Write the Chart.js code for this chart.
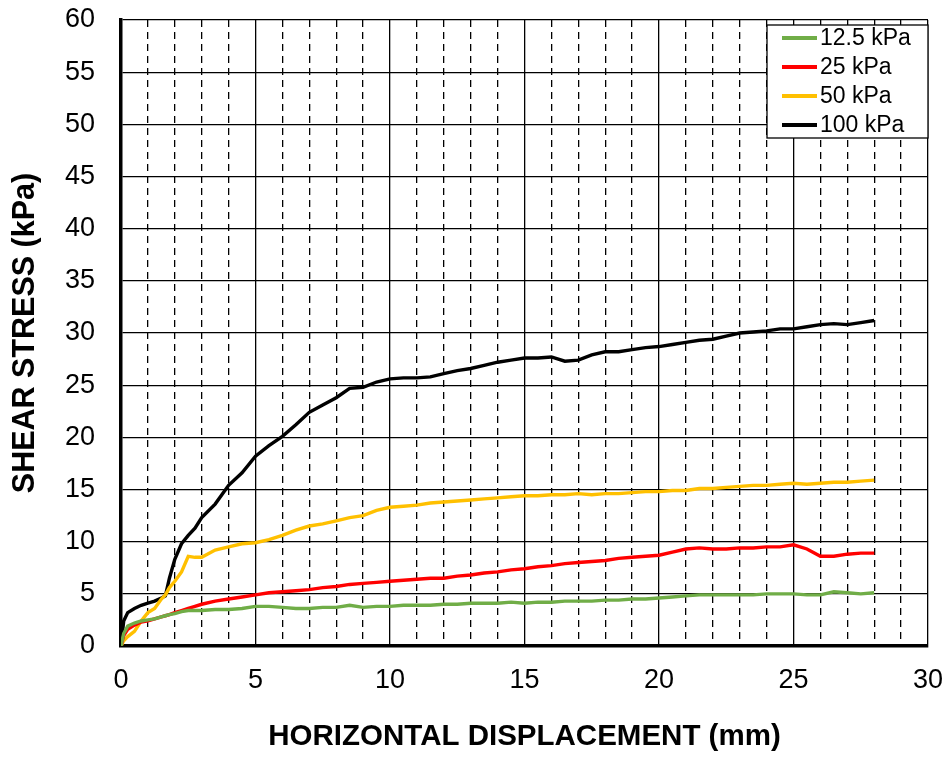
<!DOCTYPE html>
<html>
<head>
<meta charset="utf-8">
<script src="https://cdn.jsdelivr.net/npm/chart.js@4/dist/chart.umd.min.js"></script>
<style>
  html, body { margin: 0; padding: 0; background: #fff; }
  #wrap { width: 948px; height: 757px; }
</style>
</head>
<body>
<div id="wrap"><canvas id="shearChart" width="948" height="757"></canvas></div>
<script>
// horizontal displacement (mm), shared by all four tests
const displacement = [0, 0.1, 0.25, 0.5, 0.75, 1, 1.25, 1.5, 1.65, 1.8, 2, 2.25, 2.5, 2.75, 3,
  3.5, 4, 4.5, 5, 5.5, 6, 6.5, 7, 7.5, 8, 8.5, 9, 9.5, 10, 10.5, 11, 11.5, 12, 12.5, 13, 13.5,
  14, 14.5, 15, 15.5, 16, 16.5, 17, 17.5, 18, 18.5, 19, 19.5, 20, 20.5, 21, 21.5, 22, 22.5,
  23, 23.5, 24, 24.5, 25, 25.5, 26, 26.5, 27, 27.5, 28]

const labels = ['12.5 kPa', '25 kPa', '50 kPa', '100 kPa']
const colors = ['#70AD47', '#FF0000', '#FFC000', '#000000']

// shear stress (kPa)
const stress12 = [0, 1.2, 1.9, 2.2, 2.4, 2.5, 2.6, 2.8, 2.9, 3.0, 3.1, 3.3, 3.4, 3.4, 3.4,
  3.5, 3.5, 3.6, 3.8, 3.8, 3.7, 3.6, 3.6, 3.7, 3.7, 3.9, 3.7, 3.8, 3.8, 3.9, 3.9, 3.9, 4.0, 4.0, 4.1, 4.1,
  4.1, 4.2, 4.1, 4.2, 4.2, 4.3, 4.3, 4.3, 4.4, 4.4, 4.5, 4.5, 4.6, 4.7, 4.8, 4.9, 4.9, 4.9,
  4.9, 4.9, 5.0, 5.0, 5.0, 4.9, 4.9, 5.2, 5.1, 5.0, 5.1]
const stress25 = [0, 1.0, 1.6, 2.0, 2.3, 2.4, 2.6, 2.8, 2.9, 3.0, 3.2, 3.4, 3.6, 3.8, 4.0,
  4.3, 4.5, 4.7, 4.9, 5.1, 5.2, 5.3, 5.4, 5.6, 5.7, 5.9, 6.0, 6.1, 6.2, 6.3, 6.4, 6.5, 6.5, 6.7, 6.8, 7.0,
  7.1, 7.3, 7.4, 7.6, 7.7, 7.9, 8.0, 8.1, 8.2, 8.4, 8.5, 8.6, 8.7, 9.0, 9.3, 9.4, 9.3, 9.3,
  9.4, 9.4, 9.5, 9.5, 9.7, 9.3, 8.6, 8.6, 8.8, 8.9, 8.9]
const stress50 = [0, 0.5, 0.9, 1.4, 2.4, 3.2, 3.6, 4.5, 4.9, 5.6, 6.2, 7.1, 8.6, 8.5, 8.5,
  9.2, 9.5, 9.8, 9.9, 10.2, 10.6, 11.1, 11.5, 11.7, 12.0, 12.3, 12.5, 13.0, 13.3, 13.4, 13.5, 13.7, 13.8, 13.9, 14.0, 14.1,
  14.2, 14.3, 14.4, 14.4, 14.5, 14.5, 14.6, 14.5, 14.6, 14.6, 14.7, 14.8, 14.8, 14.9, 14.9, 15.1, 15.1, 15.2,
  15.3, 15.4, 15.4, 15.5, 15.6, 15.5, 15.6, 15.7, 15.7, 15.8, 15.9]
const stress100 = [0, 2.4, 3.2, 3.6, 3.9, 4.1, 4.3, 4.6, 4.8, 6.5, 8.3, 9.8, 10.6, 11.3, 12.3,
  13.6, 15.4, 16.6, 18.2, 19.2, 20.1, 21.2, 22.4, 23.1, 23.8, 24.7, 24.8, 25.3, 25.6, 25.7, 25.7, 25.8, 26.1, 26.4, 26.6, 26.9,
  27.2, 27.4, 27.6, 27.6, 27.7, 27.3, 27.4, 27.9, 28.2, 28.2, 28.4, 28.6, 28.7, 28.9, 29.1, 29.3, 29.4, 29.7,
  30.0, 30.1, 30.2, 30.4, 30.4, 30.6, 30.8, 30.9, 30.8, 31.0, 31.2]

const series = [stress12, stress25, stress50, stress100]
const FONT = '"Liberation Sans", Arial, sans-serif'

const datasets = series.map((ys, i) => ({
  label: labels[i],
  data: ys.map((y, j) => ({ x: displacement[j], y: y })),
  borderColor: colors[i],
  backgroundColor: colors[i],
  borderWidth: 3.4,
  pointRadius: 0,
  showLine: true,
  tension: 0
}))

// legend box inside the plot, top right, like the Excel one
const boxLegend = {
  id: 'boxLegend',
  afterDraw(chart) {
    const ctx = chart.ctx
    const x0 = 767, y0 = 25, w = 161, h = 113
    ctx.save()
    ctx.fillStyle = '#fff'
    ctx.fillRect(x0, y0, w, h)
    ctx.strokeStyle = '#000'
    ctx.lineWidth = 1.3
    ctx.strokeRect(x0, y0, w, h)
    ctx.font = '23px ' + FONT
    ctx.textBaseline = 'middle'
    chart.data.datasets.forEach((ds, i) => {
      const y = 38 + i * 29
      ctx.strokeStyle = ds.borderColor
      ctx.lineWidth = 4
      ctx.beginPath()
      ctx.moveTo(782, y)
      ctx.lineTo(817, y)
      ctx.stroke()
      ctx.fillStyle = '#000'
      ctx.fillText(ds.label, 820, y + 1)
    })
    ctx.restore()
  }
}

new Chart('shearChart', {
  type: 'scatter',
  data: { datasets },
  options: {
    responsive: false,
    animation: false,
    layout: { padding: { left: 0, right: 20, top: 20, bottom: 0 } },
    plugins: { legend: { display: false }, tooltip: { enabled: false } },
    scales: {
      x: {
        type: 'linear',
        min: 0,
        max: 30,
        afterFit: scale => {
          scale.height = 111
          scale.paddingLeft = 0
          scale.paddingRight = 0
        },
        ticks: {
          stepSize: 1,
          autoSkip: false,
          maxRotation: 0,
          padding: 18,
          color: '#000',
          font: { family: FONT, size: 27 },
          callback: v => (v % 5 === 0 ? v : '')
        },
        grid: {
          drawTicks: false,
          color: '#000',
          lineWidth: 1.3
        },
        border: {
          color: '#000',
          width: 3.5,
          dash: ctx => (ctx.tick && ctx.tick.value % 5 !== 0 ? [7, 5] : [])
        },
        title: {
          display: true,
          text: 'HORIZONTAL DISPLACEMENT (mm)',
          color: '#000',
          font: { family: FONT, size: 29.5, weight: 'bold', lineHeight: 1.2 },
          padding: { top: 0, bottom: 2 }
        }
      },
      y: {
        min: 0,
        max: 60,
        afterFit: scale => {
          scale.width = 121
          scale.paddingTop = 0
          scale.paddingBottom = 0
        },
        ticks: {
          stepSize: 5,
          padding: 26,
          color: '#000',
          font: { family: FONT, size: 27 }
        },
        grid: {
          drawTicks: false,
          color: '#000',
          lineWidth: 1.3
        },
        border: { color: '#000', width: 3.5 },
        title: {
          display: true,
          text: 'SHEAR STRESS (kPa)',
          color: '#000',
          font: { family: FONT, size: 30.5, weight: 'bold', lineHeight: 1.2 },
          padding: { top: 7, bottom: 0 }
        }
      }
    }
  },
  plugins: [boxLegend]
})
</script>
</body>
</html>
